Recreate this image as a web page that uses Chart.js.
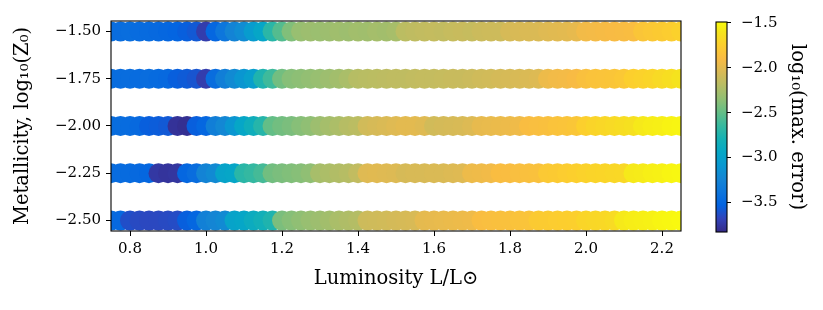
<!DOCTYPE html>
<html>
<head>
<meta charset="utf-8">
<script src="https://cdn.jsdelivr.net/npm/chart.js@4.4.1/dist/chart.umd.min.js"></script>
<style>
  body { margin: 0; background: #fff; }
  #wrap { position: relative; width: 823px; height: 310px; }
  #mainBox { position: absolute; left: 0; top: 0; width: 823px; height: 310px; }
  #cbBox { position: absolute; left: 700px; top: 0; width: 123px; height: 310px; }
</style>
</head>
<body>
<div id="wrap">
  <div id="mainBox"><canvas id="mainChart"></canvas></div>
  <div id="cbBox"><canvas id="cbChart"></canvas></div>
</div>
<script>
// ========================
// DATA
// ========================
const lumValues = [0.75, 0.775, 0.8, 0.825, 0.85, 0.875, 0.9, 0.925, 0.95, 0.975,
  1.0, 1.025, 1.05, 1.075, 1.1, 1.125, 1.15, 1.175, 1.2, 1.225,
  1.25, 1.275, 1.3, 1.325, 1.35, 1.375, 1.4, 1.425, 1.45, 1.475,
  1.5, 1.525, 1.55, 1.575, 1.6, 1.625, 1.65, 1.675, 1.7, 1.725,
  1.75, 1.775, 1.8, 1.825, 1.85, 1.875, 1.9, 1.925, 1.95, 1.975,
  2.0, 2.025, 2.05, 2.075, 2.1, 2.125, 2.15, 2.175, 2.2, 2.225, 2.25];

const metallicities = [-1.5, -1.75, -2.0, -2.25, -2.5];

// log10(max. error) per row
const errZ150 = [-3.44, -3.45, -3.44, -3.46, -3.47, -3.48, -3.50, -3.52, -3.55, -3.58,
  -3.72, -3.50, -3.38, -3.25, -3.18, -3.05, -2.95, -2.70, -2.55, -2.40, -2.32,
  -2.30, -2.31, -2.30, -2.29, -2.30, -2.28, -2.29, -2.27, -2.28, -2.26,
  -2.18, -2.16, -2.15, -2.14, -2.15, -2.13, -2.12, -2.13, -2.11, -2.10, -2.10,
  -2.06, -2.05, -2.04, -2.04, -2.02, -2.01, -2.00, -1.98,
  -1.93, -1.92, -1.91, -1.90, -1.89, -1.88,
  -1.82, -1.80, -1.78, -1.76, -1.73];
const errZ175 = [-3.44, -3.45, -3.45, -3.46, -3.45, -3.47, -3.48,
  -3.55, -3.57, -3.60, -3.72,
  -3.45, -3.30, -3.20, -3.10, -3.02, -2.75, -2.62, -2.45, -2.38, -2.36, -2.34, -2.32, -2.30, -2.28, -2.25,
  -2.20, -2.19, -2.18, -2.17, -2.16, -2.16, -2.15, -2.14, -2.14, -2.13, -2.12, -2.12, -2.11,
  -2.09, -2.08, -2.07, -2.06, -2.05, -2.04, -2.03,
  -1.95, -1.93, -1.92, -1.90,
  -1.86, -1.84, -1.83, -1.82, -1.80,
  -1.74, -1.72, -1.70, -1.67, -1.64, -1.61];
const errZ200 = [-3.44, -3.45, -3.46, -3.48,
  -3.55, -3.56, -3.58,
  -3.78, -3.80,
  -3.55, -3.50, -3.30, -3.22, -3.10, -2.95, -2.85, -2.72, -2.50, -2.45, -2.42, -2.38, -2.35, -2.30, -2.27, -2.24, -2.20, -2.18,
  -2.08, -2.06, -2.04, -2.02, -2.00, -2.00, -2.02,
  -2.08, -2.07, -2.06, -2.05, -2.03,
  -1.98, -1.97, -1.96, -1.95, -1.94,
  -1.88, -1.87, -1.86, -1.84, -1.83, -1.81,
  -1.74, -1.71, -1.69, -1.67, -1.65, -1.63,
  -1.58, -1.56, -1.55, -1.53, -1.52];
const errZ225 = [-3.45, -3.46, -3.47, -3.48, -3.50,
  -3.75, -3.77, -3.76,
  -3.50, -3.45, -3.25, -3.20, -2.98, -2.95, -2.70, -2.66, -2.60, -2.45, -2.42, -2.40, -2.38, -2.35, -2.26, -2.24, -2.22, -2.20, -2.15,
  -2.02, -2.01, -2.02, -2.03,
  -2.06, -2.05, -2.05, -2.04, -2.04, -2.03, -2.02,
  -1.95, -1.94, -1.93,
  -1.88, -1.88, -1.87, -1.86, -1.85,
  -1.79, -1.78, -1.76, -1.74, -1.72, -1.71, -1.70, -1.69, -1.68,
  -1.58, -1.57, -1.55, -1.54, -1.52, -1.51];
const errZ250 = [-3.45, -3.48,
  -3.63, -3.65, -3.66, -3.66, -3.65, -3.64,
  -3.55, -3.50, -3.28, -3.24, -3.20, -2.98, -2.95, -2.88, -2.82, -2.75, -2.42, -2.38, -2.35, -2.32, -2.30, -2.28, -2.25, -2.23, -2.21,
  -2.10, -2.09, -2.08, -2.07, -2.06, -2.05,
  -1.99, -1.98, -1.97, -1.96, -1.95, -1.94,
  -1.88, -1.87, -1.86, -1.85, -1.84, -1.83,
  -1.78, -1.77, -1.76, -1.75, -1.74,
  -1.70, -1.69, -1.68, -1.66,
  -1.58, -1.56, -1.55, -1.54, -1.52, -1.51, -1.50];

const errRows = [errZ150, errZ175, errZ200, errZ225, errZ250];

const xTicks = [0.8, 1.0, 1.2, 1.4, 1.6, 1.8, 2.0, 2.2];
const yTicks = [-2.5, -2.25, -2.0, -1.75, -1.5];
const cbTicks = [-3.5, -3.0, -2.5, -2.0, -1.5];
const cbMin = -3.83;
const cbMax = -1.49;

// ========================
// COLORMAP (parula-like)
// ========================
const parulaStops = [
  [0.000, 53, 42, 135], [0.063, 50, 67, 186], [0.127, 3, 99, 225], [0.190, 13, 117, 220],
  [0.254, 20, 133, 212], [0.317, 9, 152, 209], [0.381, 6, 167, 198], [0.444, 21, 177, 180],
  [0.508, 56, 185, 158], [0.571, 101, 190, 134], [0.635, 146, 191, 115], [0.698, 183, 189, 100],
  [0.762, 217, 186, 86], [0.825, 248, 187, 68], [0.889, 252, 206, 46], [0.952, 245, 228, 29],
  [1.000, 249, 251, 14]
];

function parula(t) {
  t = Math.max(0, Math.min(1, t));
  for (let i = 1; i < parulaStops.length; i++) {
    const a = parulaStops[i - 1], b = parulaStops[i];
    if (t <= b[0]) {
      const f = (t - a[0]) / (b[0] - a[0]);
      const r = Math.round(a[1] + f * (b[1] - a[1]));
      const g = Math.round(a[2] + f * (b[2] - a[2]));
      const bl = Math.round(a[3] + f * (b[3] - a[3]));
      return `rgb(${r},${g},${bl})`;
    }
  }
  return "rgb(249,251,14)";
}

function colorFor(v) {
  return parula((v - cbMin) / (cbMax - cbMin));
}

const minus = s => s.replace("-", "\u2212");

// frame around the plot area (matplotlib style box)
const framePlugin = {
  id: "frame",
  afterDatasetsDraw(chart) {
    const { ctx, chartArea: a } = chart;
    ctx.save();
    ctx.strokeStyle = "#000";
    ctx.lineWidth = 1.1;
    ctx.strokeRect(a.left, a.top, a.right - a.left, a.bottom - a.top);
    ctx.restore();
  }
};

const serif = "'DejaVu Serif', serif";

// ========================
// MAIN SCATTER
// ========================
const datasets = metallicities.map((z, r) => ({
  label: "Z " + z,
  data: lumValues.map(x => ({ x: x, y: z })),
  backgroundColor: errRows[r].map(v => colorFor(v)),
  borderWidth: 0,
  pointRadius: 10,
  clip: 0
}));

new Chart(document.getElementById("mainChart"), {
  type: "scatter",
  data: { datasets: datasets },
  options: {
    responsive: true,
    maintainAspectRatio: false,
    animation: false,
    layout: { padding: { left: 0, top: 21, right: 142, bottom: 0 } },
    plugins: { legend: { display: false }, tooltip: { enabled: false } },
    scales: {
      x: {
        type: "linear",
        min: 0.75,
        max: 2.25,
        afterBuildTicks: s => { s.ticks = xTicks.map(v => ({ value: v })); },
        afterFit: s => { s.height = 79; },
        grid: { drawOnChartArea: false, drawTicks: true, tickLength: 5, tickColor: "#000", tickWidth: 1 },
        border: { display: false },
        ticks: {
          color: "#000",
          padding: 4,
          maxRotation: 0,
          font: { family: serif, size: 15 },
          callback: v => v.toFixed(1)
        },
        title: {
          display: true,
          text: "Luminosity L/L\u2299",
          color: "#000",
          font: { family: serif, size: 19.5 },
          padding: { top: 0, bottom: 19 }
        }
      },
      y: {
        type: "linear",
        min: -2.555,
        max: -1.445,
        afterBuildTicks: s => { s.ticks = yTicks.map(v => ({ value: v })); },
        afterFit: s => { s.width = 111; },
        grid: { drawOnChartArea: false, drawTicks: true, tickLength: 5, tickColor: "#000", tickWidth: 1 },
        border: { display: false },
        ticks: {
          color: "#000",
          padding: 5,
          font: { family: serif, size: 15 },
          callback: v => minus(v.toFixed(2))
        },
        title: {
          display: true,
          text: "Metallicity, log\u2081\u2080(Z\u2080)",
          color: "#000",
          font: { family: serif, size: 19.5 },
          padding: { top: 11, bottom: 0 }
        }
      }
    }
  },
  plugins: [framePlugin]
});

// ========================
// COLORBAR
// ========================
function barGradient(context) {
  const chart = context.chart;
  const a = chart.chartArea;
  if (!a) return null;
  const y = chart.scales.y;
  const g = chart.ctx.createLinearGradient(0, y.getPixelForValue(cbMin), 0, y.getPixelForValue(cbMax));
  parulaStops.forEach(s => g.addColorStop(s[0], `rgb(${s[1]},${s[2]},${s[3]})`));
  return g;
}

new Chart(document.getElementById("cbChart"), {
  type: "bar",
  data: {
    labels: ["cb"],
    datasets: [{
      data: [[cbMin, cbMax]],
      backgroundColor: barGradient,
      borderWidth: 0,
      barPercentage: 1,
      categoryPercentage: 1
    }]
  },
  options: {
    responsive: true,
    maintainAspectRatio: false,
    animation: false,
    layout: { padding: { left: 16, top: 22, right: 0, bottom: 78 } },
    plugins: { legend: { display: false }, tooltip: { enabled: false } },
    scales: {
      x: { display: false },
      y: {
        position: "right",
        min: cbMin,
        max: cbMax,
        afterBuildTicks: s => { s.ticks = cbTicks.map(v => ({ value: v })); },
        afterFit: s => { s.width = 96; },
        grid: { drawOnChartArea: false, drawTicks: true, tickLength: 4, tickColor: "#000", tickWidth: 1 },
        border: { display: false },
        ticks: {
          color: "#000",
          padding: 10,
          font: { family: serif, size: 15 },
          callback: v => minus(v.toFixed(1))
        },
        title: {
          display: true,
          text: "log\u2081\u2080(max. error)",
          color: "#000",
          font: { family: serif, size: 19.5 },
          padding: { top: 14, bottom: 0 }
        }
      }
    }
  },
  plugins: [framePlugin]
});
</script>
</body>
</html>
